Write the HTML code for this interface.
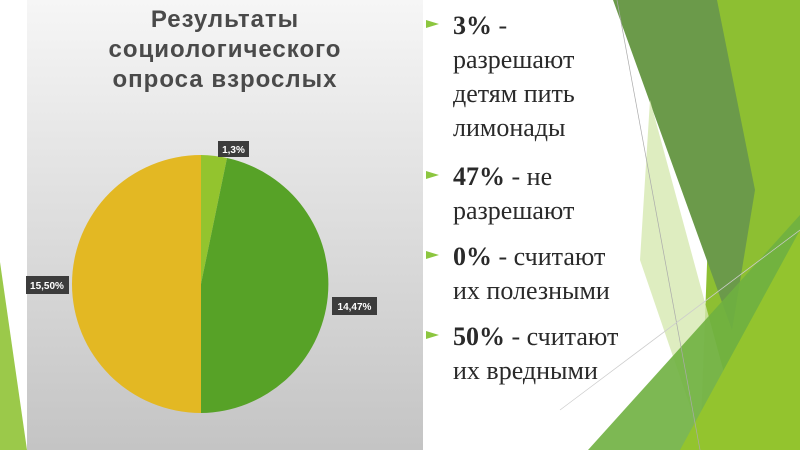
<!DOCTYPE html>
<html><head><meta charset="utf-8"><style>
body{margin:0;width:800px;height:450px;overflow:hidden;background:#fff;position:relative;font-family:"Liberation Serif",serif}
#panel{position:absolute;left:27px;top:0;width:396px;height:450px;background:linear-gradient(#f6f6f6,#c4c4c4)}
.t{position:absolute;left:453px;font-size:26px;color:#2a2a2a;line-height:34px;white-space:nowrap}
.b{position:absolute;left:426px;width:0;height:0;border-left:13px solid #8cc63f;border-top:4px solid transparent;border-bottom:4px solid transparent}
</style></head><body>
<svg width="800" height="450" style="position:absolute;left:0;top:0">
<polygon points="0,262 27,450 0,450" fill="#9bc94a"/>
<polygon points="717,0 800,0 800,450 700,450" fill="#8dbf32"/>
<polygon points="613,0 717,0 755,190 732,330" fill="#6b9a4a"/>
<polygon points="650,100 745,450 705,450 640,260" fill="#d6e8b0" opacity="0.8"/>
<polygon points="588,450 800,215 800,450" fill="#6fb040" opacity="0.9"/>
<polygon points="680,450 800,230 800,450" fill="#93c42e"/>
<line x1="617" y1="0" x2="700" y2="450" stroke="#aaa" stroke-width="0.7"/>
<line x1="560" y1="410" x2="800" y2="230" stroke="#ccc" stroke-width="0.7"/>
</svg>
<div id="panel"></div>
<svg width="800" height="450" style="position:absolute;left:0;top:0;font-family:'Liberation Sans',sans-serif">
<g font-size="24" font-weight="bold" fill="#4a4a4a" text-anchor="middle" letter-spacing="1">
<text x="225" y="27">Результаты</text>
<text x="225" y="57">социологического</text>
<text x="225" y="87">опроса взрослых</text>
</g>
<path d="M201,284 L201,155 A129,129 0 0 1 227,158 Z" fill="#93c42e"/>
<path d="M201,284 L227,158 A129,129 0 0 1 201,413 Z" fill="#57a227"/>
<path d="M201,284 L201,413 A129,129 0 0 1 201,155 Z" fill="#e3b823"/>
<rect x="218" y="141" width="31" height="16" fill="#3c3c3c"/>
<text x="233.5" y="153" text-anchor="middle" font-size="10" font-weight="bold" fill="#fff">1,3%</text>
<rect x="26" y="276" width="43" height="18" fill="#3c3c3c"/>
<text x="47" y="289" text-anchor="middle" font-size="10" font-weight="bold" fill="#fff">15,50%</text>
<rect x="332" y="297" width="45" height="18" fill="#3c3c3c"/>
<text x="354.5" y="310" text-anchor="middle" font-size="10" font-weight="bold" fill="#fff">14,47%</text>
</svg>
<div class="b" style="top:20px"></div>
<div class="t" style="top:9px"><b>3%</b> -<br>разрешают<br>детям пить<br>лимонады</div>
<div class="b" style="top:171px"></div>
<div class="t" style="top:160px"><b>47%</b> - не<br>разрешают</div>
<div class="b" style="top:251px"></div>
<div class="t" style="top:240px"><b>0%</b> - считают<br>их полезными</div>
<div class="b" style="top:331px"></div>
<div class="t" style="top:320px"><b>50%</b> - считают<br>их вредными</div>
</body></html>
